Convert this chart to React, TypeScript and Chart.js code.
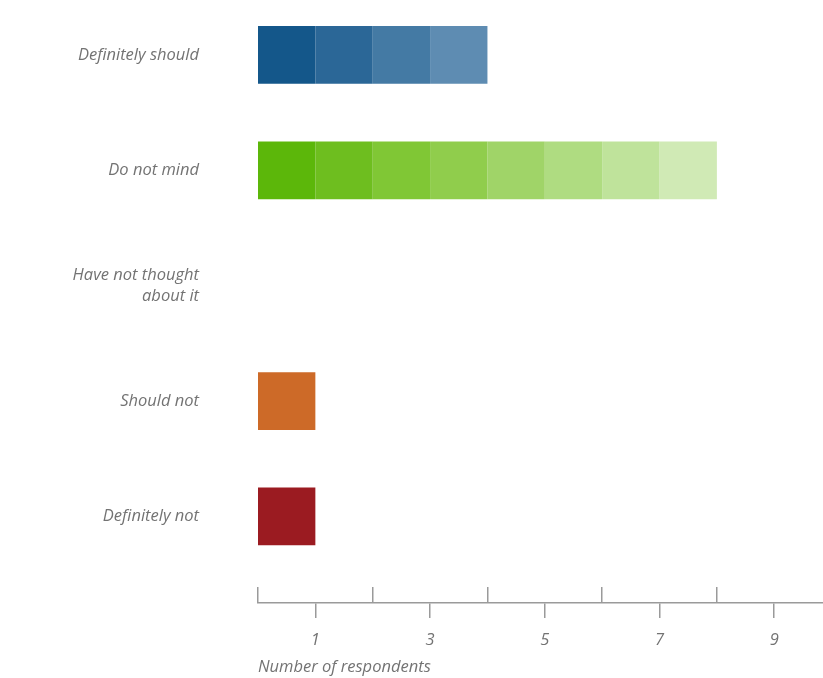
import React, { useEffect, useRef } from 'react';
import { Chart, registerables } from 'chart.js';

Chart.register(...registerables);

// ---- data ----
const categories: (string | string[])[] = [
  'Definitely should',
  'Do not mind',
  ['Have not thought', 'about it'],
  'Should not',
  'Definitely not',
];
const respondents = [4, 8, 0, 1, 1];
const labeledTicks = [1, 3, 5, 7, 9];
const unlabeledTicks = [0, 2, 4, 6, 8];
const axisMax = 9.85;
const axisTitle = 'Number of respondents';

// ---- styles ----
const segmentColors: string[][] = [
  ['#14578a', '#2b6797', '#447aa4', '#5e8cb2'],
  ['#5cb70a', '#6ebe1f', '#80c735', '#90cd4c', '#a0d468', '#afdc81', '#bfe39b', '#d0eab5'],
  [],
  ['#cd6a28'],
  ['#9b1b21'],
];
const textColor = '#737373';
const axisColor = '#9a9a9a';
const fontFamily = '"Open Sans", "DejaVu Sans", sans-serif';
const fontSize = 16.5;

export default function App() {
  const ref = useRef<HTMLCanvasElement | null>(null);

  useEffect(() => {
    if (!ref.current) return;
    const maxCount = Math.max(...respondents);
    const datasets = [];
    for (let k = 0; k < maxCount; k++) {
      const pts = respondents
        .map((n, i) => ({ n, i }))
        .filter((p) => p.n > k)
        .map((p) => ({ x: 1, y: p.i }));
      datasets.push({
        label: 'segment ' + (k + 1),
        data: pts,
        backgroundColor: (ctx: any) => {
          const raw = ctx.raw;
          if (!raw) return '#000';
          return segmentColors[raw.y][k] || '#999';
        },
        borderWidth: 0,
        barPercentage: 0.5,
        categoryPercentage: 1,
      });
    }

    const chart = new Chart(ref.current, {
      type: 'bar',
      data: { datasets: datasets as any },
      options: {
        indexAxis: 'y',
        animation: false,
        responsive: false,
        maintainAspectRatio: false,
        layout: { padding: { top: 3, right: 0, left: 0, bottom: 0 } },
        plugins: {
          legend: { display: false },
          tooltip: { enabled: false },
        },
        scales: {
          y: {
            type: 'linear',
            reverse: true,
            offset: false,
            min: -0.45,
            max: 4.75,
            stacked: true,
            grid: { display: false, drawTicks: false },
            border: { display: false },
            afterBuildTicks: (s: any) => {
              s.ticks = categories.map((_, i) => ({ value: i }));
            },
            afterFit: (s: any) => {
              s.width = 258;
              s.paddingTop = 0;
              s.paddingBottom = 0;
            },
            ticks: {
              padding: 59,
              color: textColor,
              font: { family: fontFamily, size: fontSize, style: 'italic', lineHeight: 1.25 },
              callback: (v: any) => categories[v as number] as any,
            },
          },
          x: {
            type: 'linear',
            position: 'bottom',
            min: 0,
            max: axisMax,
            stacked: true,
            weight: 1,
            afterBuildTicks: (s: any) => {
              s.ticks = labeledTicks.map((v) => ({ value: v }));
            },
            afterFit: (s: any) => {
              s.height = 75;
              s.paddingLeft = 0;
              s.paddingRight = 0;
            },
            grid: {
              display: true,
              drawOnChartArea: false,
              drawTicks: true,
              tickLength: 15,
              color: axisColor,
              lineWidth: 1.5,
            },
            border: { display: true, color: axisColor, width: 1.5 },
            ticks: {
              autoSkip: false,
              maxRotation: 0,
              padding: 12,
              color: textColor,
              font: { family: fontFamily, size: fontSize, style: 'italic' },
            },
            title: {
              display: true,
              text: axisTitle,
              align: 'start',
              color: textColor,
              font: { family: fontFamily, size: fontSize, style: 'italic' },
              padding: { top: 0, bottom: 1 },
            },
          },
          x2: {
            type: 'linear',
            position: 'bottom',
            min: 0,
            max: axisMax,
            weight: 0,
            afterBuildTicks: (s: any) => {
              s.ticks = unlabeledTicks.map((v) => ({ value: v }));
            },
            afterFit: (s: any) => {
              s.height = 0;
              s.paddingLeft = 0;
              s.paddingRight = 0;
            },
            grid: {
              display: true,
              drawOnChartArea: false,
              drawTicks: true,
              tickLength: -16,
              color: axisColor,
              lineWidth: 1.5,
            },
            border: { display: false },
            ticks: { display: false },
          },
        },
      } as any,
    });

    return () => chart.destroy();
  }, []);

  return (
    <canvas
      ref={ref}
      width={823}
      height={678}
      style={{ position: 'absolute', left: 0, top: 0, width: 823, height: 678, display: 'block' }}
    />
  );
}
